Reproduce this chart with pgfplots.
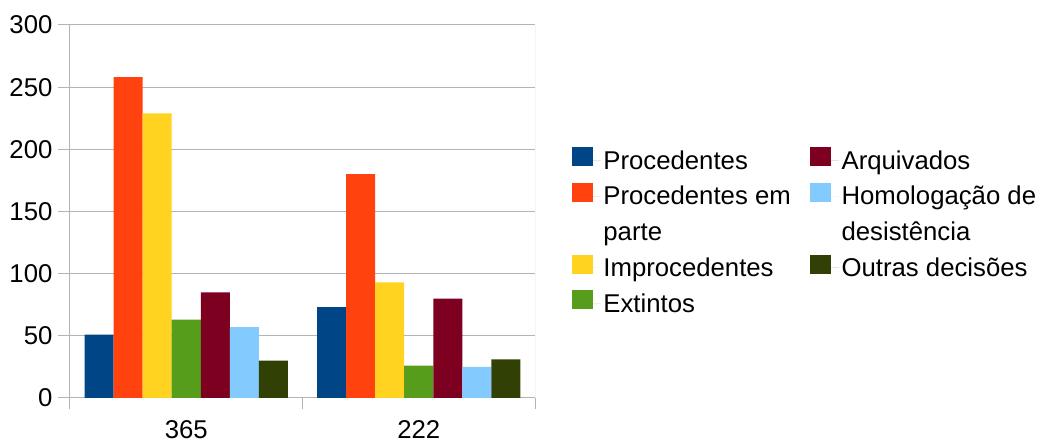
\documentclass[border=0pt]{standalone}
\usepackage{pgfplots}
\pgfplotsset{compat=1.18}
\usepackage{fontspec}
\setmainfont{Liberation Sans}
\definecolor{cA}{HTML}{004586}
\definecolor{cB}{HTML}{FF420E}
\definecolor{cC}{HTML}{FFD320}
\definecolor{cD}{HTML}{579D1C}
\definecolor{cE}{HTML}{7E0021}
\definecolor{cF}{HTML}{83CAFF}
\definecolor{cG}{HTML}{314004}
\definecolor{gridc}{HTML}{B3B3B3}
\begin{document}
\begin{tikzpicture}
\path[use as bounding box] (0pt,0pt) rectangle (780pt,333.75pt);
\begin{axis}[
  at={(52.5pt,35.25pt)}, anchor=south west,
  scale only axis, width=348.75pt, height=279.75pt,
  xmin=-0.5, xmax=1.5, ymin=0, ymax=300,
  axis x line*=bottom, axis y line*=left,
  axis line style={gridc, line width=0.75pt},
  xtick={0,1}, xticklabels={365,222},
  major x tick style={draw=none},
  minor xtick={-0.5,0.5,1.5},
  minor x tick style={gridc, line width=0.75pt},
  ytick={0,50,...,300},
  ymajorgrids, grid style={gridc, line width=0.75pt},
  y tick style={gridc, line width=0.75pt},
  tick align=outside,
  major tick length=9pt, minor tick length=8pt,
  /pgf/number format/assume math mode=true,
  ticklabel style={font=\fontsize{19.3pt}{22.5pt}\selectfont},
  yticklabel style={inner sep=4pt},
  xticklabel style={yshift=-4.5pt},
  ybar, bar width=0.125,
  legend columns=2,
  legend cell align=left,
  legend style={draw=none, fill=none, at={(1.0796,0.675)}, anchor=north west,
    inner sep=0pt, font=\fontsize{19.3pt}{22.5pt}\selectfont,
    nodes={text height=17pt, text depth=4pt, inner ysep=0pt},
    row sep=5.8pt,
    /tikz/every even column/.append style={column sep=12.75pt}},
  legend image code/.code={\fill[#1, draw=none] (0pt,-4.5pt) rectangle (15.75pt,9.75pt); \path[draw=none] (0pt,0pt) -- (21.35pt,0pt);},
]
\addplot[fill=cA, draw=none, bar shift=-0.375, forget plot] coordinates {(0,51) (1,73)};
\addplot[fill=cB, draw=none, bar shift=-0.25, forget plot] coordinates {(0,258) (1,180)};
\addplot[fill=cC, draw=none, bar shift=-0.125, forget plot] coordinates {(0,229) (1,93)};
\addplot[fill=cD, draw=none, bar shift=0, forget plot] coordinates {(0,63) (1,26)};
\addplot[fill=cE, draw=none, bar shift=0.125, forget plot] coordinates {(0,85) (1,80)};
\addplot[fill=cF, draw=none, bar shift=0.25, forget plot] coordinates {(0,57) (1,25)};
\addplot[fill=cG, draw=none, bar shift=0.375, forget plot] coordinates {(0,30) (1,31)};
\addlegendimage{fill=cA}\addlegendentry{Procedentes}
\addlegendimage{fill=cE}\addlegendentry{Arquivados}
\addlegendimage{fill=cB}\addlegendentry{Procedentes em}
\addlegendimage{fill=cF}\addlegendentry{Homologação de}
\addlegendimage{empty legend}\addlegendentry{parte}
\addlegendimage{empty legend}\addlegendentry{desistência}
\addlegendimage{fill=cC}\addlegendentry{Improcedentes}
\addlegendimage{fill=cG}\addlegendentry{Outras decisões}
\addlegendimage{fill=cD}\addlegendentry{Extintos}
\draw[gridc, line width=0.75pt] (rel axis cs:1,0) -- (rel axis cs:1,1);
\end{axis}
\end{tikzpicture}
\end{document}
